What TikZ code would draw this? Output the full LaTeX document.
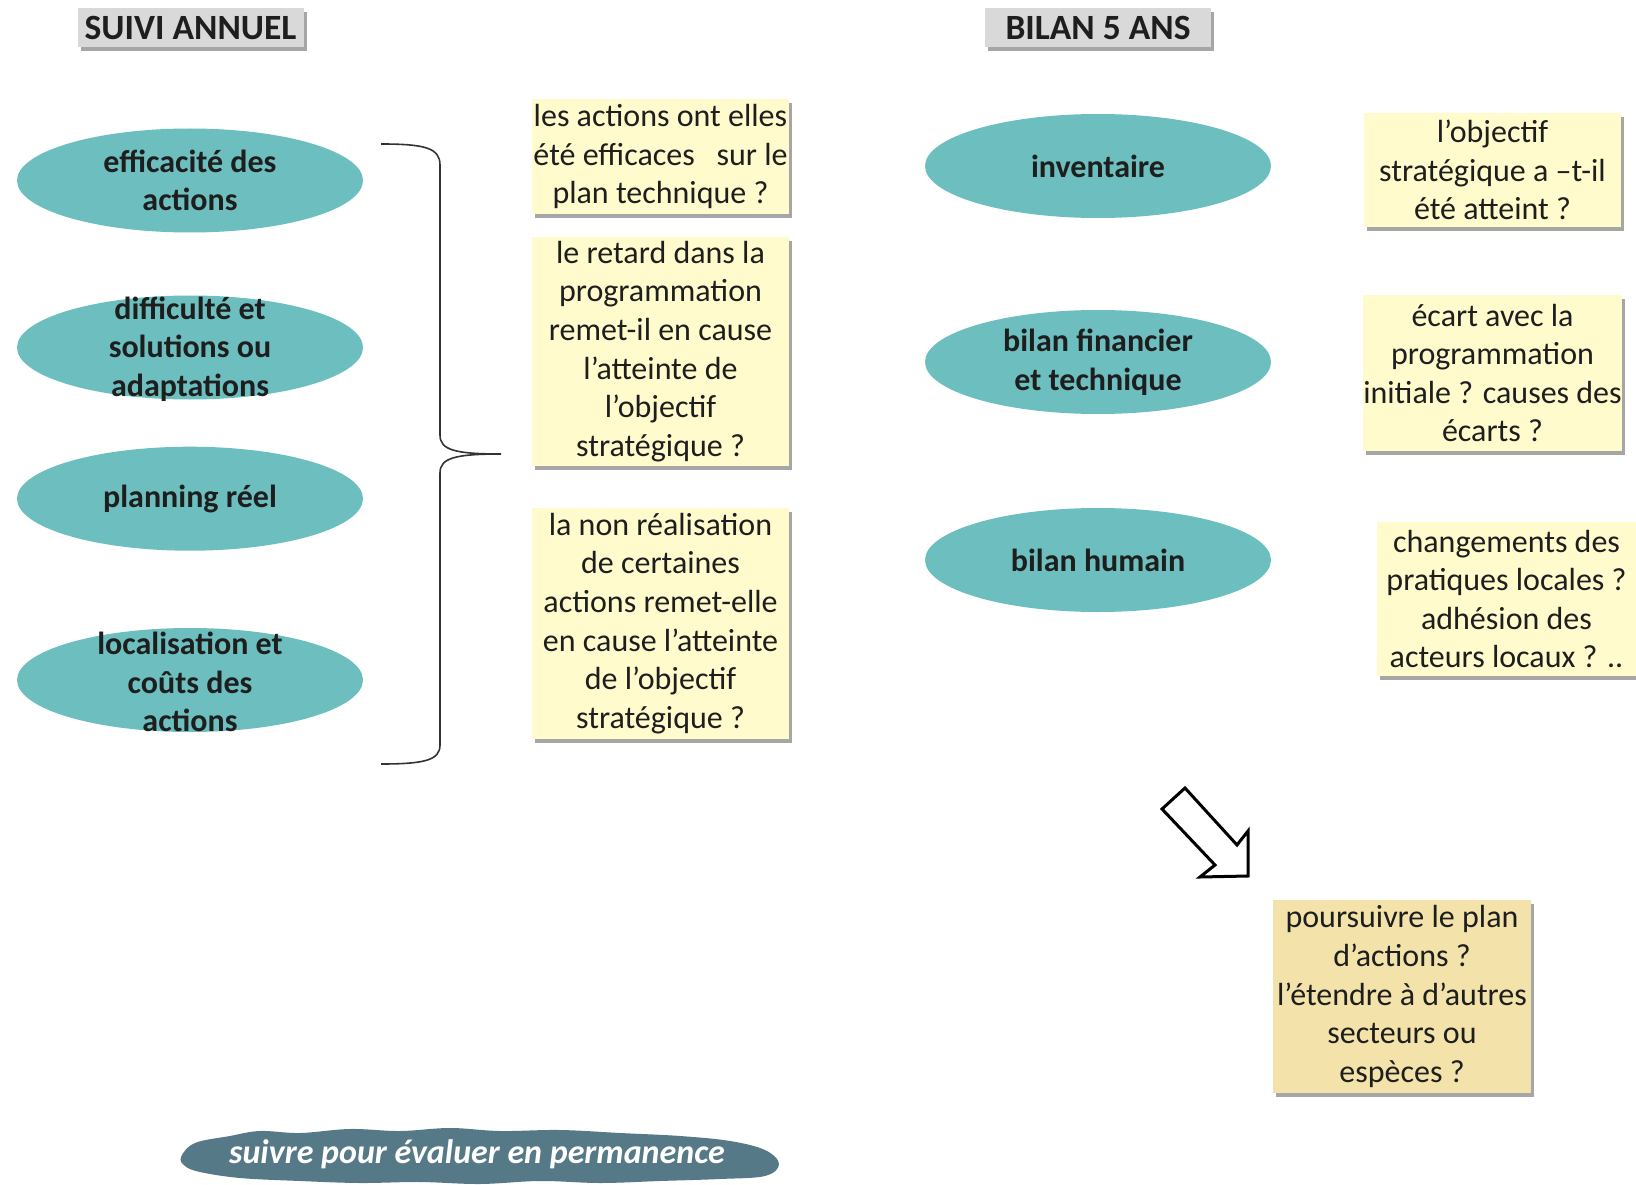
\documentclass[tikz,border=0pt]{standalone}
\usepackage{fontspec}
\setmainfont{Carlito}
\usetikzlibrary{shapes.geometric,shadows}
\definecolor{tealfill}{RGB}{108,191,190}
\definecolor{yelfill}{RGB}{255,251,204}
\definecolor{tanfill}{RGB}{243,226,170}
\definecolor{slatefill}{RGB}{86,121,135}
\definecolor{titlegray}{RGB}{217,217,217}
\definecolor{txtcol}{RGB}{30,30,30}
\begin{document}
\begin{tikzpicture}[x=1pt,y=-1pt,
  oval/.style={ellipse, fill=tealfill, minimum width=346pt, minimum height=104pt, inner sep=0pt},
  ovaltext/.style={inner sep=0pt, align=center, font=\fontsize{32}{38.6}\selectfont\bfseries, text=txtcol},
  qbox/.style={rectangle, fill=yelfill, inner sep=0pt, align=center,
    font=\fontsize{32}{38.6}\selectfont, text=txtcol,
    drop shadow={shadow xshift=3pt, shadow yshift=-4pt, fill=black, opacity=0.35}},
  titlebox/.style={rectangle, fill=titlegray, inner sep=0pt, minimum width=226pt, minimum height=39pt,
    font=\fontsize{35.5}{38}\selectfont\bfseries, text=txtcol,
    drop shadow={shadow xshift=3pt, shadow yshift=-4pt, fill=black, opacity=0.35}},
  bracestyle/.style={draw=black!80, line width=1.6pt},
  blockarrow/.style={draw=black, line width=3pt, fill=white, line join=miter},
  cloudtext/.style={text=white, inner sep=0pt, font=\fontsize{34}{38}\selectfont\bfseries\itshape},
]
\useasboundingbox (0,0) rectangle (1636,1185);
% titles
\node[titlebox] (t1) at (190.5,27.5) {SUIVI ANNUEL};
\node[titlebox] (t2) at (1098,27.5) {BILAN 5 ANS};
% left ellipses
\node[oval] (e1) at (190,180.5) {};
\node[ovaltext] (e1t) at (e1.center) {efficacité des\\actions};
\node[oval] (e2) at (190,347.5) {};
\node[ovaltext] (e2t) at (190,349) {difficulté et\\solutions ou\\adaptations};
\node[oval] (e3) at (190,498.7) {};
\node[ovaltext] (e3t) at (e3.center) {planning réel};
\node[oval] (e4) at (190,680) {};
\node[ovaltext] (e4t) at (190,682) {localisation et\\coûts des\\actions};
% brace
\coordinate (btop) at (381,144);
\coordinate (btip) at (501,454);
\coordinate (bbot) at (381,764);
\draw[bracestyle] (btop) .. controls (425,144) and (440,148) .. (440,165) -- (440,435)
  .. controls (440,450) and (455,454) .. (btip)
  .. controls (455,454) and (440,458) .. (440,473) -- (440,745)
  .. controls (440,760) and (425,764) .. (bbot);
% middle question boxes
\node[qbox, minimum width=257pt, minimum height=115pt] (q1) at (660.5,156.5) {les actions ont elles\\été efficaces~~ sur le\\plan technique ?};
\node[qbox, minimum width=257pt, minimum height=229pt] (q2) at (660.5,351.5) {le retard dans la\\programmation\\remet-il en cause\\l’atteinte de\\l’objectif\\stratégique ?};
\node[qbox, minimum width=257pt, minimum height=231pt] (q3) at (660.5,623.5) {la non réalisation\\de certaines\\actions remet-elle\\en cause l’atteinte\\de l’objectif\\stratégique ?};
% right ellipses
\node[oval] (r1) at (1098,166) {};
\node[ovaltext] (r1t) at (r1.center) {inventaire};
\node[oval] (r2) at (1098,362) {};
\node[ovaltext] (r2t) at (r2.center) {bilan financier\\et technique};
\node[oval] (r3) at (1098,560) {};
\node[ovaltext] (r3t) at (r3.center) {bilan humain};
% right question boxes
\node[qbox, minimum width=257pt, minimum height=114pt] (s1) at (1492.5,170) {l’objectif\\stratégique a –t-il\\été atteint ?};
\node[qbox, minimum width=257pt, minimum height=156pt] (s2) at (1492.5,373) {écart avec la\\programmation\\initiale ? causes des\\écarts ?};
\node[qbox, minimum width=259pt, minimum height=154pt] (s3) at (1506.5,599) {changements des\\pratiques locales ?\\adhésion des\\acteurs locaux ? ..};
\node[qbox, fill=tanfill, minimum width=258pt, minimum height=193pt] (s4) at (1402,996.5) {poursuivre le plan\\d’actions ?\\l’étendre à d’autres\\secteurs ou\\espèces ?};
% block arrow
\draw[blockarrow] (1185,788) -- (1237,845) -- (1248,831) -- (1248,876) -- (1200,877) -- (1215,865) -- (1162,809) -- cycle;
% cloud
\fill[slatefill] plot[smooth cycle, tension=0.6] coordinates {
  (181,1157) (195,1143) (230,1136) (260,1131) (300,1133) (350,1129) (400,1131) (450,1128)
  (500,1131) (560,1130) (620,1133) (680,1136) (730,1141) (765,1150) (779,1164) (765,1176)
  (720,1179) (660,1181) (600,1183) (540,1181) (480,1184) (420,1182) (360,1183) (300,1181)
  (240,1178) (200,1172) (185,1166)};
\node[cloudtext] (c1t) at (477,1154) {suivre pour évaluer en permanence};
\end{tikzpicture}
\end{document}
